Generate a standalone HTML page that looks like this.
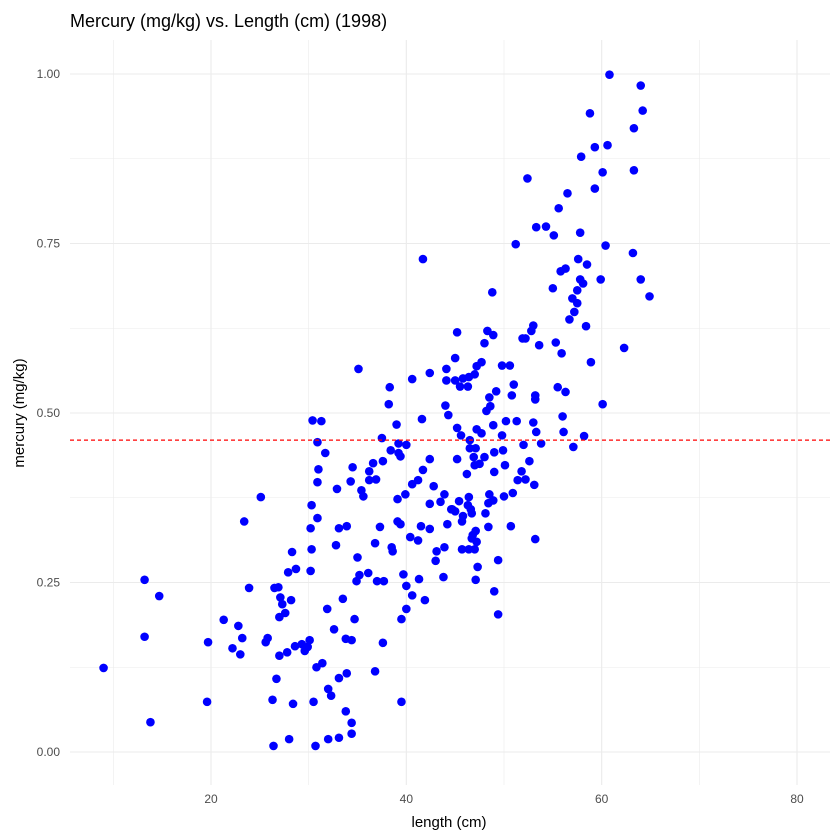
<!DOCTYPE html>
<html><head><meta charset="utf-8"><style>
html,body{margin:0;padding:0;background:#fff;}
svg{display:block;font-family:"Liberation Sans",sans-serif;}
</style></head><body>
<svg id="chart" width="840" height="840" viewBox="0 0 840 840" xmlns="http://www.w3.org/2000/svg">
<text x="70" y="27" font-size="18" fill="#000">Mercury (mg/kg) vs. Length (cm) (1998)</text>
<g id="grid"></g>
<g id="xticks"></g>
<g id="yticks"></g>
<g id="points"></g>
<g id="ref"></g>
<text x="449" y="827" font-size="15" text-anchor="middle" fill="#000">length (cm)</text>
<text transform="translate(24,413) rotate(-90)" font-size="15" text-anchor="middle" fill="#000">mercury (mg/kg)</text>
</svg>
<script>
const lengths=[35.1,38.3,38.2,40.6,42.4,44.1,44.1,45.0,44.0,44.3,41.6,39.0,30.4,31.3,30.9,31.7,31.0,30.9,32.9,34.5,34.3,35.4,35.6,36.2,36.6,36.2,36.9,37.6,37.5,38.4,39.2,39.4,39.2,40.0,42.4,41.7,41.2,40.6,42.8,39.9,39.1,43.9,43.5,42.4,44.6,25.1,23.4,30.3,30.9,30.2,33.1,33.9,37.3,39.1,39.4,41.5,42.4,44.2,36.8,38.5,38.6,40.4,41.2,43.1,43.9,43.0,43.8,28.3,30.3,32.8,35.0,27.9,28.7,30.2,35.2,34.9,36.1,37.0,37.7,39.7,40.0,41.3,40.6,41.9,40.0,39.5,23.9,26.5,26.9,27.1,27.3,28.2,27.6,27.0,31.9,33.5,34.7,32.6,33.8,34.4,37.6,23.2,23.0,25.6,25.8,27.0,27.8,28.6,29.3,29.6,30.1,29.9,30.8,31.4,33.1,33.9,36.8,26.7,26.3,28.4,30.5,32.0,32.3,33.8,34.4,34.4,33.1,32.0,30.7,28.0,26.4,39.5,
57.5,57.2,56.7,58.4,53.0,52.8,51.9,52.2,53.6,55.3,55.9,58.9,45.2,48.3,48.9,48.0,45.0,45.8,46.4,47.0,47.2,47.7,45.5,46.3,49.8,50.6,51.0,50.8,49.2,48.5,48.6,48.2,53.2,53.2,55.5,56.3,60.1,45.2,45.6,47.2,47.7,48.9,50.2,51.3,49.8,53.0,53.3,56.0,56.1,58.2,57.1,53.8,52.0,46.5,46.5,47.1,45.2,46.9,48.0,49.0,49.9,47.0,47.5,50.1,49.0,46.2,52.6,51.8,51.4,52.2,53.1,45.4,46.4,48.5,48.9,48.4,50.0,50.9,44.7,45.0,46.3,46.6,46.7,48.1,45.8,45.7,48.4,50.7,47.1,46.8,46.7,47.2,45.7,46.4,47.0,53.2,49.4,47.3,47.1,49.0,49.4,
9.0,13.2,13.2,13.8,14.7,19.6,19.7,21.3,22.2,22.8,
60.8,64.0,64.2,58.8,63.3,60.6,59.3,63.3,52.4,59.3,57.9,60.1,56.5,55.6,57.8,60.4,63.2,51.2,53.3,54.3,55.1,57.6,55.8,56.3,58.5,64.0,64.9,57.8,55.0,58.1,57.5,57.0,59.9,62.3,41.7,48.8];
const mercury=[0.565,0.538,0.513,0.550,0.559,0.565,0.548,0.581,0.511,0.497,0.491,0.483,0.489,0.488,0.457,0.441,0.417,0.398,0.388,0.420,0.399,0.386,0.377,0.414,0.426,0.401,0.402,0.429,0.463,0.445,0.441,0.436,0.455,0.453,0.432,0.416,0.401,0.395,0.392,0.380,0.373,0.380,0.369,0.366,0.358,0.376,0.340,0.364,0.345,0.330,0.330,0.333,0.332,0.340,0.336,0.333,0.329,0.336,0.308,0.302,0.296,0.317,0.312,0.296,0.302,0.282,0.258,0.295,0.299,0.305,0.287,0.265,0.270,0.267,0.261,0.252,0.264,0.252,0.252,0.262,0.245,0.255,0.231,0.224,0.211,0.196,0.242,0.242,0.243,0.228,0.218,0.224,0.205,0.199,0.211,0.226,0.196,0.181,0.167,0.165,0.161,0.168,0.144,0.162,0.168,0.142,0.147,0.156,0.159,0.149,0.165,0.155,0.125,0.131,0.109,0.116,0.119,0.108,0.077,0.071,0.074,0.093,0.083,0.060,0.043,0.027,0.021,0.019,0.009,0.019,0.009,0.074,
0.662,0.649,0.638,0.628,0.629,0.621,0.610,0.610,0.600,0.604,0.588,0.575,0.619,0.621,0.615,0.603,0.548,0.551,0.553,0.557,0.569,0.575,0.539,0.539,0.570,0.570,0.542,0.526,0.532,0.523,0.510,0.503,0.526,0.520,0.538,0.531,0.513,0.478,0.467,0.476,0.470,0.482,0.488,0.488,0.467,0.486,0.472,0.495,0.472,0.466,0.450,0.455,0.453,0.460,0.448,0.448,0.432,0.435,0.435,0.442,0.445,0.423,0.425,0.423,0.413,0.410,0.429,0.414,0.401,0.402,0.394,0.370,0.376,0.380,0.371,0.367,0.377,0.382,0.358,0.355,0.364,0.358,0.352,0.352,0.348,0.340,0.332,0.333,0.326,0.320,0.315,0.310,0.299,0.299,0.299,0.314,0.283,0.273,0.254,0.237,0.203,
0.124,0.254,0.170,0.044,0.230,0.074,0.162,0.195,0.153,0.186,
0.999,0.983,0.946,0.942,0.920,0.895,0.892,0.858,0.846,0.831,0.878,0.855,0.824,0.802,0.766,0.747,0.736,0.749,0.774,0.775,0.762,0.727,0.709,0.713,0.719,0.697,0.672,0.697,0.684,0.691,0.681,0.669,0.697,0.596,0.727,0.678];
const xTicks=[20,40,60,80];
const xMinor=[10,30,50,70];
const yTicks=[0,0.25,0.5,0.75,1.0];
const yTickLabels=["0.00","0.25","0.50","0.75","1.00"];
const yMinor=[0.125,0.375,0.625,0.875];
const refValue=0.46;

const NS="http://www.w3.org/2000/svg";
const P={l:70,r:830,t:40,b:785};
const xs=v=>211+(v-20)*(797-211)/60;
const ys=v=>752-v*678;
function mk(tag,attrs,parent){const e=document.createElementNS(NS,tag);for(const k in attrs)e.setAttribute(k,attrs[k]);parent.appendChild(e);return e;}
const grid=document.getElementById('grid');
xMinor.forEach(v=>{const l=mk('line',{x1:xs(v),x2:xs(v),y1:P.t,y2:P.b,stroke:'#ebebeb','stroke-width':0.6},grid);

});
yMinor.forEach(v=>{const l=mk('line',{x1:P.l,x2:P.r,y1:ys(v),y2:ys(v),stroke:'#ebebeb','stroke-width':0.6},grid);

});
xTicks.forEach(v=>{const l=mk('line',{x1:xs(v),x2:xs(v),y1:P.t,y2:P.b,stroke:'#ebebeb','stroke-width':1.1},grid);

});
yTicks.forEach(v=>{const l=mk('line',{x1:P.l,x2:P.r,y1:ys(v),y2:ys(v),stroke:'#ebebeb','stroke-width':1.1},grid);

});
const xt=document.getElementById('xticks');
xTicks.forEach(v=>{const t=mk('text',{x:xs(v),y:803,'font-size':12,'text-anchor':'middle',fill:'#4d4d4d'},xt);t.textContent=String(v);

});
const yt=document.getElementById('yticks');
yTicks.forEach((v,i)=>{const t=mk('text',{x:60,y:ys(v)+4,'font-size':12,'text-anchor':'end',fill:'#4d4d4d'},yt);t.textContent=yTickLabels[i];

});
const pts=document.getElementById('points');
lengths.forEach((v,i)=>{const c=mk('circle',{cx:xs(v),cy:ys(mercury[i]),r:4.3,fill:'#0000ff'},pts);

});
const ref=document.getElementById('ref');
const rl=mk('line',{x1:P.l,x2:P.r,y1:ys(refValue),y2:ys(refValue),stroke:'#ff0000','stroke-width':1.2,'stroke-dasharray':'4,3'},ref);


</script>
</body></html>
